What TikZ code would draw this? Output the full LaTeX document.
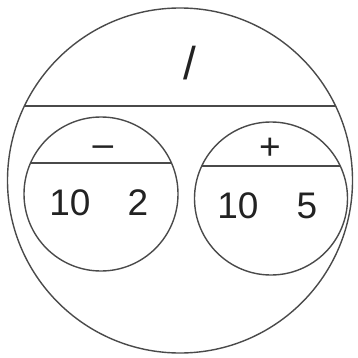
\documentclass[tikz,border=0pt]{standalone}
\usepackage{fontspec}
\setmainfont{Liberation Sans}
\definecolor{linec}{HTML}{4A4A4A}
\definecolor{textc}{HTML}{222222}
\tikzset{
  ring/.style={circle, draw=linec, line width=1.4pt, inner sep=0pt, outer sep=0pt},
  chord/.style={draw=linec, line width=1.4pt},
  lbl/.style={text=textc, anchor=base, inner sep=0pt, font=\fontsize{37}{40}\selectfont},
  bigl/.style={text=textc, anchor=base, inner sep=0pt, font=\fontsize{46}{50}\selectfont}
}
\begin{document}
\begin{tikzpicture}[x=1pt,y=-1pt]
\useasboundingbox (0,0) rectangle (357,358);
\node[ring, minimum size=345pt] (big) at (180,180.5) {};
\node[ring, minimum size=154pt] (left) at (101,194) {};
\node[ring, minimum size=153pt] (right) at (271,198.5) {};
\coordinate (bigL) at (24.7,106);
\coordinate (bigR) at (335.3,106);
\coordinate (leftL) at (30.5,163);
\coordinate (leftR) at (171.5,163);
\coordinate (rightL) at (201.8,166);
\coordinate (rightR) at (340.2,166);
\draw[chord] (bigL) -- (bigR);
\draw[chord] (leftL) -- (leftR);
\draw[chord] (rightL) -- (rightR);
\node[bigl] (div) at (190,80) {/};
\node[lbl] (minus) at (103,157) {–};
\node[lbl] (plus) at (270,159.5) {+};
\node[lbl] (la) at (70,215) {10};
\node[lbl] (lb) at (138,215) {2};
\node[lbl] (ra) at (238,218) {10};
\node[lbl] (rb) at (307,218) {5};
\end{tikzpicture}
\end{document}
